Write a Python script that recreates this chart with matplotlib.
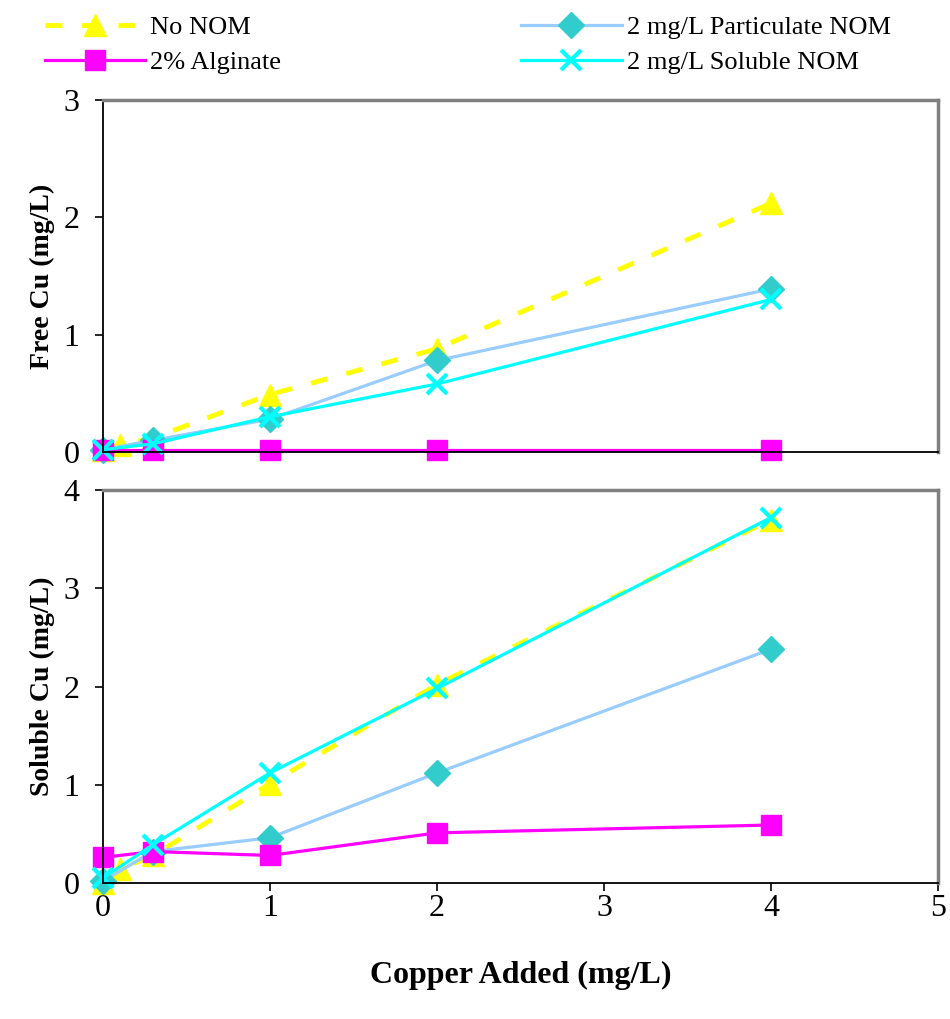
import numpy as np
import matplotlib.pyplot as plt
from matplotlib.lines import Line2D

plt.rcParams['font.family'] = ['Liberation Serif', 'DejaVu Serif']

# Cobre añadido (mg/L) para cada serie
x_sin_nom = [0, 0.1, 0.3, 1, 2, 4]
x_series = [0, 0.3, 1, 2, 4]

# Cobre libre (mg/L)
libre_sin_nom = [0.02, 0.06, 0.12, 0.49, 0.88, 2.12]
libre_alginato = [0.02, 0.02, 0.02, 0.02, 0.02]
libre_particulado = [0.02, 0.10, 0.28, 0.78, 1.39]
libre_soluble = [0.02, 0.07, 0.30, 0.58, 1.30]

# Cobre soluble (mg/L)
sol_sin_nom = [0.0, 0.14, 0.28, 1.01, 2.02, 3.70]
sol_alginato = [0.26, 0.32, 0.28, 0.51, 0.59]
sol_particulado = [0.02, 0.32, 0.46, 1.12, 2.38]
sol_soluble = [0.05, 0.39, 1.12, 1.98, 3.72]

etiquetas = ['No NOM', '2% Alginate', '2 mg/L Particulate NOM', '2 mg/L Soluble NOM']

estilos = {
    'sin_nom': dict(color='#FFFF00', lw=3.5, dashes=(3.5, 4), marker='^', ms=16,
                    mfc='#FFFF00', mec='#FFFF00'),
    'particulado': dict(color='#99CCFF', lw=2.3, marker='D', ms=13,
                        mfc='#33CCCC', mec='#33CCCC'),
    'alginato': dict(color='#FF00FF', lw=2.3, marker='s', ms=14,
                     mfc='#FF00FF', mec='#FF00FF'),
    'soluble': dict(color='#00FFFF', lw=2.3, marker='x', ms=14, mew=3,
                    mfc='#00FFFF', mec='#00FFFF'),
}

fig = plt.figure(figsize=(9.5, 10.19), dpi=100)
ax1 = fig.add_axes([0.1084, 0.5564, 0.879, 0.3455])
ax2 = fig.add_axes([0.1084, 0.1335, 0.879, 0.3856])


def dibuja(ax, sin_nom, alginato, particulado, soluble):
    ax.plot(x_sin_nom, sin_nom, clip_on=False, **estilos['sin_nom'])
    ax.plot(x_series, particulado, clip_on=False, **estilos['particulado'])
    ax.plot(x_series, alginato, clip_on=False, **estilos['alginato'])
    ax.plot(x_series, soluble, clip_on=False, **estilos['soluble'])
    ax.set_xlim(0, 5)
    for lado in ['top', 'right']:
        ax.spines[lado].set_color('#808080')
        ax.spines[lado].set_linewidth(2.5)
    for lado in ['left', 'bottom']:
        ax.spines[lado].set_color('black')
        ax.spines[lado].set_linewidth(1.3)
    ax.tick_params(direction='out', length=6, width=1.2, labelsize=23)
    ax.tick_params(axis='y', pad=11)


dibuja(ax1, libre_sin_nom, libre_alginato, libre_particulado, libre_soluble)
ax1.set_ylim(0, 3)
ax1.set_yticks([0, 1, 2, 3])
ax1.set_xticks([])
ax1.set_ylabel('Free Cu (mg/L)', fontsize=20, fontweight='bold', labelpad=6)

dibuja(ax2, sol_sin_nom, sol_alginato, sol_particulado, sol_soluble)
ax2.set_ylim(0, 4)
ax2.set_yticks([0, 1, 2, 3, 4])
ax2.set_xticks([0, 1, 2, 3, 4, 5])
ax2.tick_params(axis='x', pad=2)
ax2.set_ylabel('Soluble Cu (mg/L)', fontsize=20, fontweight='bold', labelpad=6)
ax2.set_xlabel('Copper Added (mg/L)', fontsize=23, fontweight='bold', labelpad=27)

manejadores = [
    Line2D([], [], **estilos['sin_nom']),
    Line2D([], [], **estilos['alginato']),
    Line2D([], [], **estilos['particulado']),
    Line2D([], [], **estilos['soluble']),
]
fig.legend(manejadores, etiquetas, loc='upper left', bbox_to_anchor=(0.022, 1.008),
           ncol=2, frameon=False, fontsize=19, handlelength=3.8, handletextpad=0.2,
           columnspacing=9.1, labelspacing=0.45, numpoints=1)

fig.savefig('out.png', dpi=100)
